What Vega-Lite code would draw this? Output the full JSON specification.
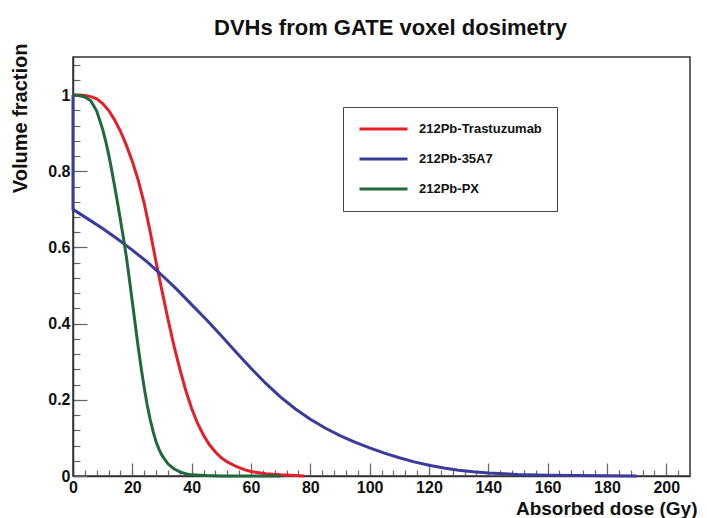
{
  "$schema": "https://vega.github.io/schema/vega-lite/v6.json",
  "width": 617,
  "height": 419,
  "autosize": {"type": "none"},
  "padding": {"left": 73, "top": 57, "right": 17, "bottom": 42},
  "background": "white",
  "config": {"view": {"stroke": "#333", "strokeWidth": 1.5}, "font": "Liberation Sans"},
  "title": {"text": "DVHs from GATE voxel dosimetry", "anchor": "middle", "fontSize": 22, "fontWeight": "bold", "color": "#111", "font": "Liberation Sans", "offset": 3, "dx": 9},
  "data": {"values": [
    {"series": "212Pb-Trastuzumab", "seq": 1, "dose": 0, "vf": 1.0},
    {"series": "212Pb-Trastuzumab", "seq": 2, "dose": 2, "vf": 1.0},
    {"series": "212Pb-Trastuzumab", "seq": 3, "dose": 4, "vf": 0.999},
    {"series": "212Pb-Trastuzumab", "seq": 4, "dose": 6, "vf": 0.996},
    {"series": "212Pb-Trastuzumab", "seq": 5, "dose": 8, "vf": 0.99},
    {"series": "212Pb-Trastuzumab", "seq": 6, "dose": 10, "vf": 0.978},
    {"series": "212Pb-Trastuzumab", "seq": 7, "dose": 12, "vf": 0.96},
    {"series": "212Pb-Trastuzumab", "seq": 8, "dose": 14, "vf": 0.935},
    {"series": "212Pb-Trastuzumab", "seq": 9, "dose": 16, "vf": 0.905},
    {"series": "212Pb-Trastuzumab", "seq": 10, "dose": 18, "vf": 0.868},
    {"series": "212Pb-Trastuzumab", "seq": 11, "dose": 20, "vf": 0.826},
    {"series": "212Pb-Trastuzumab", "seq": 12, "dose": 22, "vf": 0.776},
    {"series": "212Pb-Trastuzumab", "seq": 13, "dose": 24, "vf": 0.716},
    {"series": "212Pb-Trastuzumab", "seq": 14, "dose": 26, "vf": 0.642},
    {"series": "212Pb-Trastuzumab", "seq": 15, "dose": 28, "vf": 0.562},
    {"series": "212Pb-Trastuzumab", "seq": 16, "dose": 30, "vf": 0.486},
    {"series": "212Pb-Trastuzumab", "seq": 17, "dose": 32, "vf": 0.412},
    {"series": "212Pb-Trastuzumab", "seq": 18, "dose": 34, "vf": 0.343},
    {"series": "212Pb-Trastuzumab", "seq": 19, "dose": 36, "vf": 0.281},
    {"series": "212Pb-Trastuzumab", "seq": 20, "dose": 38, "vf": 0.225},
    {"series": "212Pb-Trastuzumab", "seq": 21, "dose": 40, "vf": 0.177},
    {"series": "212Pb-Trastuzumab", "seq": 22, "dose": 42, "vf": 0.138},
    {"series": "212Pb-Trastuzumab", "seq": 23, "dose": 44, "vf": 0.107},
    {"series": "212Pb-Trastuzumab", "seq": 24, "dose": 46, "vf": 0.082},
    {"series": "212Pb-Trastuzumab", "seq": 25, "dose": 48, "vf": 0.063},
    {"series": "212Pb-Trastuzumab", "seq": 26, "dose": 50, "vf": 0.048},
    {"series": "212Pb-Trastuzumab", "seq": 27, "dose": 52, "vf": 0.037},
    {"series": "212Pb-Trastuzumab", "seq": 28, "dose": 55, "vf": 0.025},
    {"series": "212Pb-Trastuzumab", "seq": 29, "dose": 58, "vf": 0.016},
    {"series": "212Pb-Trastuzumab", "seq": 30, "dose": 60, "vf": 0.012},
    {"series": "212Pb-Trastuzumab", "seq": 31, "dose": 65, "vf": 0.006},
    {"series": "212Pb-Trastuzumab", "seq": 32, "dose": 70, "vf": 0.003},
    {"series": "212Pb-Trastuzumab", "seq": 33, "dose": 75, "vf": 0.001},
    {"series": "212Pb-Trastuzumab", "seq": 34, "dose": 78, "vf": 0.0},
    {"series": "212Pb-35A7", "seq": 1, "dose": 0, "vf": 1.0},
    {"series": "212Pb-35A7", "seq": 2, "dose": 0, "vf": 0.70},
    {"series": "212Pb-35A7", "seq": 3, "dose": 5, "vf": 0.675},
    {"series": "212Pb-35A7", "seq": 4, "dose": 10, "vf": 0.65},
    {"series": "212Pb-35A7", "seq": 5, "dose": 15, "vf": 0.622},
    {"series": "212Pb-35A7", "seq": 6, "dose": 20, "vf": 0.593},
    {"series": "212Pb-35A7", "seq": 7, "dose": 25, "vf": 0.562},
    {"series": "212Pb-35A7", "seq": 8, "dose": 30, "vf": 0.527},
    {"series": "212Pb-35A7", "seq": 9, "dose": 35, "vf": 0.49},
    {"series": "212Pb-35A7", "seq": 10, "dose": 40, "vf": 0.45},
    {"series": "212Pb-35A7", "seq": 11, "dose": 45, "vf": 0.41},
    {"series": "212Pb-35A7", "seq": 12, "dose": 50, "vf": 0.368},
    {"series": "212Pb-35A7", "seq": 13, "dose": 55, "vf": 0.325},
    {"series": "212Pb-35A7", "seq": 14, "dose": 60, "vf": 0.283},
    {"series": "212Pb-35A7", "seq": 15, "dose": 65, "vf": 0.243},
    {"series": "212Pb-35A7", "seq": 16, "dose": 70, "vf": 0.207},
    {"series": "212Pb-35A7", "seq": 17, "dose": 75, "vf": 0.176},
    {"series": "212Pb-35A7", "seq": 18, "dose": 80, "vf": 0.149},
    {"series": "212Pb-35A7", "seq": 19, "dose": 85, "vf": 0.126},
    {"series": "212Pb-35A7", "seq": 20, "dose": 90, "vf": 0.106},
    {"series": "212Pb-35A7", "seq": 21, "dose": 95, "vf": 0.089},
    {"series": "212Pb-35A7", "seq": 22, "dose": 100, "vf": 0.074},
    {"series": "212Pb-35A7", "seq": 23, "dose": 105, "vf": 0.06},
    {"series": "212Pb-35A7", "seq": 24, "dose": 110, "vf": 0.048},
    {"series": "212Pb-35A7", "seq": 25, "dose": 115, "vf": 0.037},
    {"series": "212Pb-35A7", "seq": 26, "dose": 120, "vf": 0.028},
    {"series": "212Pb-35A7", "seq": 27, "dose": 125, "vf": 0.021},
    {"series": "212Pb-35A7", "seq": 28, "dose": 130, "vf": 0.015},
    {"series": "212Pb-35A7", "seq": 29, "dose": 135, "vf": 0.011},
    {"series": "212Pb-35A7", "seq": 30, "dose": 140, "vf": 0.008},
    {"series": "212Pb-35A7", "seq": 31, "dose": 150, "vf": 0.004},
    {"series": "212Pb-35A7", "seq": 32, "dose": 160, "vf": 0.002},
    {"series": "212Pb-35A7", "seq": 33, "dose": 170, "vf": 0.001},
    {"series": "212Pb-35A7", "seq": 34, "dose": 180, "vf": 0.0005},
    {"series": "212Pb-35A7", "seq": 35, "dose": 190, "vf": 0.0},
    {"series": "212Pb-PX", "seq": 1, "dose": 0, "vf": 1.0},
    {"series": "212Pb-PX", "seq": 2, "dose": 2, "vf": 0.999},
    {"series": "212Pb-PX", "seq": 3, "dose": 4, "vf": 0.995},
    {"series": "212Pb-PX", "seq": 4, "dose": 6, "vf": 0.985},
    {"series": "212Pb-PX", "seq": 5, "dose": 8, "vf": 0.958},
    {"series": "212Pb-PX", "seq": 6, "dose": 10, "vf": 0.91},
    {"series": "212Pb-PX", "seq": 7, "dose": 11, "vf": 0.88},
    {"series": "212Pb-PX", "seq": 8, "dose": 12, "vf": 0.845},
    {"series": "212Pb-PX", "seq": 9, "dose": 13, "vf": 0.805},
    {"series": "212Pb-PX", "seq": 10, "dose": 14, "vf": 0.762},
    {"series": "212Pb-PX", "seq": 11, "dose": 15, "vf": 0.718},
    {"series": "212Pb-PX", "seq": 12, "dose": 16, "vf": 0.672},
    {"series": "212Pb-PX", "seq": 13, "dose": 17, "vf": 0.625},
    {"series": "212Pb-PX", "seq": 14, "dose": 18, "vf": 0.575},
    {"series": "212Pb-PX", "seq": 15, "dose": 19, "vf": 0.517},
    {"series": "212Pb-PX", "seq": 16, "dose": 20, "vf": 0.457},
    {"series": "212Pb-PX", "seq": 17, "dose": 21, "vf": 0.397},
    {"series": "212Pb-PX", "seq": 18, "dose": 22, "vf": 0.337},
    {"series": "212Pb-PX", "seq": 19, "dose": 23, "vf": 0.282},
    {"series": "212Pb-PX", "seq": 20, "dose": 24, "vf": 0.232},
    {"series": "212Pb-PX", "seq": 21, "dose": 25, "vf": 0.187},
    {"series": "212Pb-PX", "seq": 22, "dose": 26, "vf": 0.149},
    {"series": "212Pb-PX", "seq": 23, "dose": 27, "vf": 0.117},
    {"series": "212Pb-PX", "seq": 24, "dose": 28, "vf": 0.09},
    {"series": "212Pb-PX", "seq": 25, "dose": 29, "vf": 0.07},
    {"series": "212Pb-PX", "seq": 26, "dose": 30, "vf": 0.054},
    {"series": "212Pb-PX", "seq": 27, "dose": 32, "vf": 0.032},
    {"series": "212Pb-PX", "seq": 28, "dose": 34, "vf": 0.019},
    {"series": "212Pb-PX", "seq": 29, "dose": 36, "vf": 0.011},
    {"series": "212Pb-PX", "seq": 30, "dose": 38, "vf": 0.006},
    {"series": "212Pb-PX", "seq": 31, "dose": 40, "vf": 0.003},
    {"series": "212Pb-PX", "seq": 32, "dose": 45, "vf": 0.001},
    {"series": "212Pb-PX", "seq": 33, "dose": 50, "vf": 0.0},
    {"series": "212Pb-PX", "seq": 34, "dose": 70, "vf": 0.0}
  ]},
  "layer": [
    {
      "mark": {"type": "line", "strokeOpacity": 0},
      "encoding": {
        "x": {"field": "dose", "type": "quantitative", "scale": {"domain": [0, 208], "nice": false, "zero": false},
          "axis": {"orient": "bottom", "values": [0,4,8,12,16,20,24,28,32,36,40,44,48,52,56,60,64,68,72,76,80,84,88,92,96,100,104,108,112,116,120,124,128,132,136,140,144,148,152,156,160,164,168,172,176,180,184,188,192,196,200,204,208],
            "tickSize": -6, "tickColor": "#666", "tickWidth": 1.2, "labels": false, "domain": false, "grid": false, "title": null}},
        "y": {"field": "vf", "type": "quantitative", "scale": {"domain": [0, 1.1], "nice": false, "zero": false},
          "axis": {"orient": "left", "values": [0,0.04,0.08,0.12,0.16,0.2,0.24,0.28,0.32,0.36,0.4,0.44,0.48,0.52,0.56,0.6,0.64,0.68,0.72,0.76,0.8,0.84,0.88,0.92,0.96,1.0,1.04,1.08],
            "tickSize": -7, "tickColor": "#666", "tickWidth": 1.2, "labels": false, "domain": false, "grid": false, "title": null}}
      }
    },
    {
      "mark": {"type": "line", "strokeWidth": 3},
      "encoding": {
        "x": {"field": "dose", "type": "quantitative", "scale": {"domain": [0, 208], "nice": false, "zero": false},
          "axis": {"orient": "bottom", "values": [0,20,40,60,80,100,120,140,160,180,200],
            "tickSize": -13, "tickColor": "#666", "tickWidth": 1.2, "domainColor": "#333", "domainWidth": 1.5, "grid": false,
            "labelFont": "Liberation Sans", "labelFontSize": 16, "labelFontWeight": "bold", "labelColor": "#111", "labelPadding": 16, "labelFlush": false, "labelOverlap": false,
            "title": "Absorbed dose (Gy)", "titleFont": "Liberation Sans", "titleFontSize": 19, "titleFontWeight": "bold", "titleColor": "#111",
            "titleAlign": "right", "titleX": 624, "titleY": 38, "titleBaseline": "alphabetic"}},
        "y": {"field": "vf", "type": "quantitative", "scale": {"domain": [0, 1.1], "nice": false, "zero": false},
          "axis": {"orient": "left", "values": [0,0.2,0.4,0.6,0.8,1.0],
            "tickSize": -14, "tickColor": "#666", "tickWidth": 1.2, "domainColor": "#333", "domainWidth": 1.5, "grid": false,
            "labelExpr": "datum.value == 0 ? '0' : format(datum.value, '.1~f')",
            "labelFont": "Liberation Sans", "labelFontSize": 16, "labelFontWeight": "bold", "labelColor": "#111", "labelPadding": 17, "labelFlush": false, "labelOverlap": false,
            "title": "Volume fraction", "titleFont": "Liberation Sans", "titleFontSize": 20, "titleFontWeight": "bold", "titleColor": "#111",
            "titleAngle": -90, "titleAlign": "right", "titleX": -43, "titleY": -14, "titleBaseline": "bottom"}},
        "color": {"field": "series", "type": "nominal",
          "scale": {"domain": ["212Pb-Trastuzumab", "212Pb-35A7", "212Pb-PX"], "range": ["#e41f28", "#3a3c9c", "#22683a"]},
          "legend": {"title": null, "orient": "none", "legendX": 270, "legendY": 50, "symbolType": "stroke", "symbolSize": 2304, "symbolStrokeWidth": 3,
            "labelFont": "Liberation Sans", "labelFontSize": 13, "labelFontWeight": "bold", "labelColor": "#111", "labelOffset": 10,
            "strokeColor": "#444", "fillColor": "white", "padding": 15, "rowPadding": 16, "clipHeight": 14}},
        "order": {"field": "seq", "type": "quantitative"}
      }
    }
  ],
  "resolve": {"axis": {"x": "independent", "y": "independent"}}
}
